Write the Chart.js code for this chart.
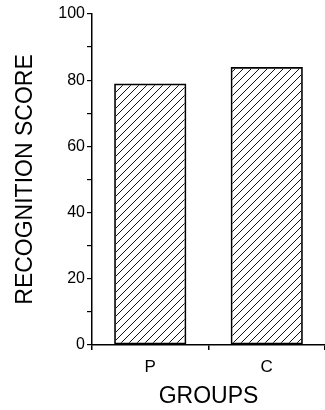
<!DOCTYPE html>
<html>
<head>
<meta charset="utf-8">
<script src="https://cdn.jsdelivr.net/npm/chart.js@4/dist/chart.umd.min.js"></script>
<style>
html,body{margin:0;padding:0;background:#fff;}
canvas{display:block;}
</style>
</head>
<body>
<canvas id="c" width="325" height="410"></canvas>
<script>
const categories = ["P", "C"];
const scores = [79, 84];
const yTickValues = [0, 20, 40, 60, 80, 100];

const FONT = "'Liberation Sans', Arial, Helvetica, sans-serif";

function hatch() {
  const s = 8;
  const p = document.createElement('canvas');
  p.width = s; p.height = s;
  const g = p.getContext('2d');
  g.strokeStyle = '#111';
  g.lineWidth = 1;
  g.beginPath();
  g.moveTo(0, s); g.lineTo(s, 0);
  g.moveTo(-s/2, s/2); g.lineTo(s/2, -s/2);
  g.moveTo(s/2, s*1.5); g.lineTo(s*1.5, s/2);
  g.stroke();
  return g.createPattern(p, 'repeat');
}

const ctx = document.getElementById('c').getContext('2d');
new Chart(ctx, {
  type: 'bar',
  data: {
    labels: categories,
    datasets: [{
      data: scores,
      backgroundColor: hatch(),
      borderColor: '#000',
      borderWidth: 1.7,
      borderSkipped: false,
      categoryPercentage: 1,
      barPercentage: 0.62
    }]
  },
  options: {
    responsive: false,
    animation: false,
    devicePixelRatio: 1,
    layout: { padding: { top: 14, right: 0, left: 0, bottom: 0 } },
    plugins: { legend: { display: false }, tooltip: { enabled: false } },
    scales: {
      x: {
        afterFit: s => { s.height = 65; },
        border: { display: true, color: '#000', width: 1.5 },
        grid: { display: true, offset: true, drawOnChartArea: false, drawTicks: true, tickLength: 5, color: '#000', lineWidth: 1.5 },
        ticks: { color: '#000', font: { family: FONT, size: 17 }, padding: 7 },
        title: { display: true, text: 'GROUPS', color: '#000', font: { family: FONT, size: 23 }, padding: { top: 0, bottom: 0 } }
      },
      y: {
        min: 0, max: 100,
        afterFit: s => { s.width = 92; },
        border: { display: true, color: '#000', width: 1.5 },
        grid: { display: true, drawOnChartArea: false, drawTicks: true, tickLength: 5, color: '#000', lineWidth: 1.2 },
        ticks: {
          stepSize: 10,
          color: '#000',
          font: { family: FONT, size: 16 },
          padding: 2,
          callback: v => yTickValues.includes(v) ? String(v) : ''
        },
        title: { display: true, text: 'RECOGNITION SCORE', color: '#000', font: { family: FONT, size: 23 }, padding: { top: 12, bottom: 0 } }
      }
    }
  }
});
</script>
</body>
</html>
